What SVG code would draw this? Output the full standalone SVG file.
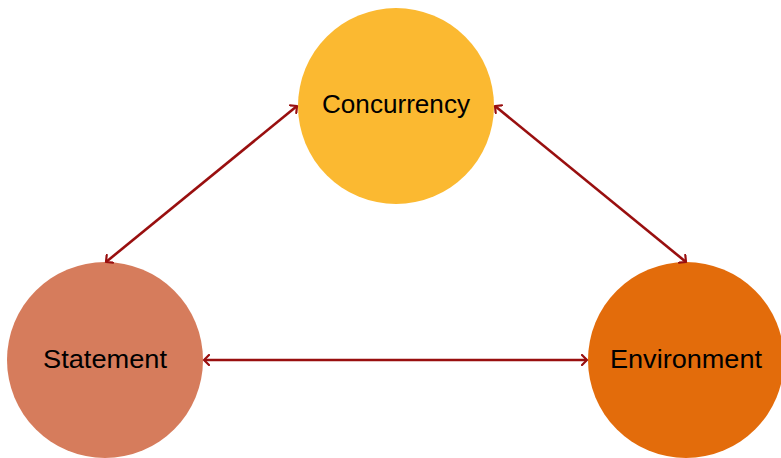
<svg xmlns="http://www.w3.org/2000/svg" width="781" height="458" viewBox="0 0 781 458">
<style>
.lbl{font-family:"Liberation Sans","DejaVu Sans",sans-serif;font-size:26.5px;fill:#000;text-anchor:middle;dominant-baseline:central}
.edge{stroke:#990f0f;stroke-width:2.6;fill:none;marker-start:url(#ah);marker-end:url(#ah)}
</style>
<defs>
<marker id="ah" viewBox="-6 -6 8 12" refX="0" refY="0" markerWidth="8" markerHeight="12" markerUnits="userSpaceOnUse" orient="auto-start-reverse">
<path d="M-5,-5 L0,0 L-5,5" fill="none" stroke="#990f0f" stroke-width="2.2" stroke-linecap="round" stroke-linejoin="round"/>
</marker>
</defs>
<g id="concurrency"><circle cx="396" cy="106" r="98" fill="#fbb931"/><text class="lbl" x="396" y="104" textLength="148" lengthAdjust="spacingAndGlyphs">Concurrency</text></g>
<g id="statement"><circle cx="105" cy="360" r="98" fill="#d67c5c"/><text class="lbl" x="105" y="359" textLength="124" lengthAdjust="spacingAndGlyphs">Statement</text></g>
<g id="environment"><circle cx="686" cy="360" r="98" fill="#e36c0b"/><text class="lbl" x="686" y="359" textLength="152" lengthAdjust="spacingAndGlyphs">Environment</text></g>
<g id="connectors">
<line class="edge" x1="106" y1="262" x2="297" y2="106"/>
<line class="edge" x1="495" y1="106" x2="686" y2="262"/>
<line class="edge" x1="204" y1="360" x2="587" y2="360"/>
</g>
</svg>
